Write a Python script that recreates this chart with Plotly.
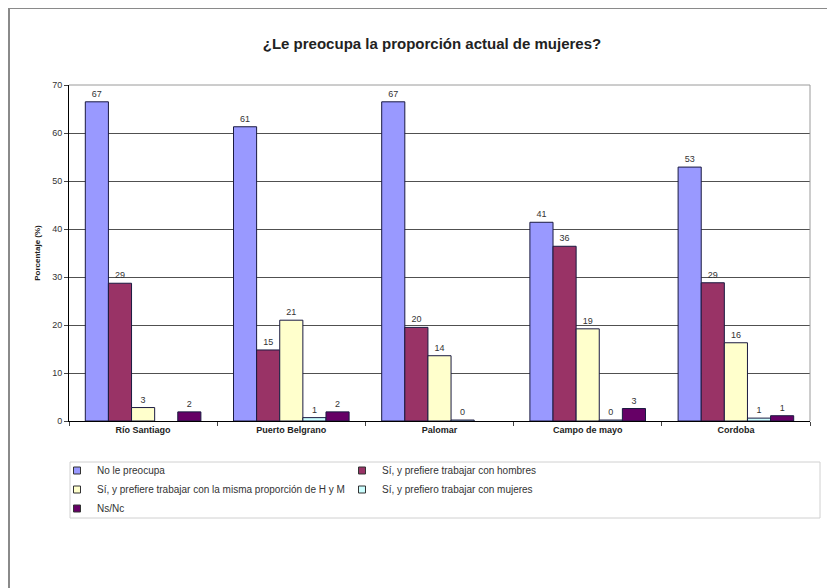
import plotly.graph_objects as go

# sites on the x axis
sitios = ["Río Santiago", "Puerto Belgrano", "Palomar", "Campo de mayo", "Cordoba"]

# one list per answer (None = no bar drawn)
no_preocupa = [66.5, 61.3, 66.5, 41.4, 52.9]
si_hombres = [28.7, 14.8, 19.5, 36.4, 28.8]
si_misma = [2.8, 21.0, 13.6, 19.2, 16.3]
si_mujeres = [None, 0.7, 0.2, 0.2, 0.6]
ns_nc = [1.9, 1.9, None, 2.6, 1.1]

series = [
    ("No le preocupa", no_preocupa, "#9999FF"),
    ("Sí, y prefiere trabajar con hombres", si_hombres, "#993366"),
    ("Sí, y prefiere trabajar con la misma proporción de H y M", si_misma, "#FFFFCC"),
    ("Sí, y prefiero trabajar con mujeres", si_mujeres, "#CCFFFF"),
    ("Ns/Nc", ns_nc, "#660066"),
]

FONT = "Arial, Liberation Sans, sans-serif"
OUTLINE = "#1a1a40"

fig = go.Figure()
for name, vals, color in series:
    fig.add_trace(go.Bar(
        x=sitios, y=vals, name=name, showlegend=False,
        marker=dict(color=color, line=dict(color=OUTLINE, width=1)),
        texttemplate="%{y:.0f}", textposition="outside",
        textfont=dict(size=9, color="#333333", family=FONT),
        cliponaxis=False,
    ))
    # small square legend keys like the original
    fig.add_trace(go.Scatter(
        x=[None], y=[None], mode="markers", name=name,
        marker=dict(symbol="square", size=7, color=color,
                    line=dict(color="#333333", width=1)),
    ))

# page body has an 8px margin, so figure px = screen px - 8
OFF = 8
W, H = 835 - OFF, 588 - OFF
L, T = 69 - OFF, 85 - OFF
R = W - (810 - OFF)
B = H - (421 - OFF)
pw, ph = W - L - R, H - T - B


def px_x(px):
    return (px - OFF - L) / pw


def px_y(py):
    return (H - B - (py - OFF)) / ph


fig.update_layout(
    width=W, height=H,
    margin=dict(l=L, r=R, t=T, b=B),
    paper_bgcolor="white", plot_bgcolor="white",
    barmode="group", bargap=0.22, bargroupgap=0,
    font=dict(family=FONT, color="#333333"),
    title=dict(text="<b>¿Le preocupa la proporción actual de mujeres?</b>",
               x=(432 - OFF) / W, xanchor="center", y=1 - (44 - OFF) / H, yanchor="middle",
               font=dict(size=15, color="#222222")),
    showlegend=True,
    legend=dict(orientation="h", x=px_x(57), y=px_y(456), xanchor="left", yanchor="top",
                entrywidth=240, font=dict(size=10, color="#333333"),
                bgcolor="rgba(0,0,0,0)", itemsizing="trace", traceorder="normal"),
    xaxis=dict(showline=True, linecolor="black", linewidth=1,
               ticks="outside", tickson="boundaries", ticklen=4, tickcolor="#444",
               tickvals=sitios, ticktext=["<b>" + s + "</b>" for s in sitios],
               tickfont=dict(size=9, color="#222222"),
               showgrid=False),
    yaxis=dict(range=[0, 70], dtick=10, showline=True, linecolor="black", linewidth=1,
               ticks="outside", ticklen=4, tickcolor="#444",
               gridcolor="#505050", gridwidth=1,
               tickfont=dict(size=9, color="#333333"),
               title=dict(text="<b>Porcentaje (%)</b>", font=dict(size=8, color="#222222"),
                          standoff=10),
               zeroline=False),
    shapes=[
        # plot area frame top/right (gray)
        dict(type="line", xref="paper", yref="paper", x0=0, x1=1, y0=1, y1=1,
             line=dict(color="#9a9a9a", width=1)),
        dict(type="line", xref="paper", yref="paper", x0=1, x1=1, y0=0, y1=1,
             line=dict(color="#9a9a9a", width=1)),
        # legend box
        dict(type="rect", xref="paper", yref="paper",
             x0=px_x(70), x1=px_x(820), y0=px_y(518), y1=px_y(462),
             line=dict(color="#d0d0d0", width=1)),
        # outer chart frame
        dict(type="line", xref="paper", yref="paper",
             x0=px_x(9), x1=px_x(9), y0=px_y(8), y1=px_y(600),
             line=dict(color="#8a8a8a", width=2)),
        dict(type="line", xref="paper", yref="paper",
             x0=px_x(8), x1=px_x(850), y0=px_y(8), y1=px_y(8),
             line=dict(color="#8a8a8a", width=2)),
    ],
)

fig.write_html("out.html")
